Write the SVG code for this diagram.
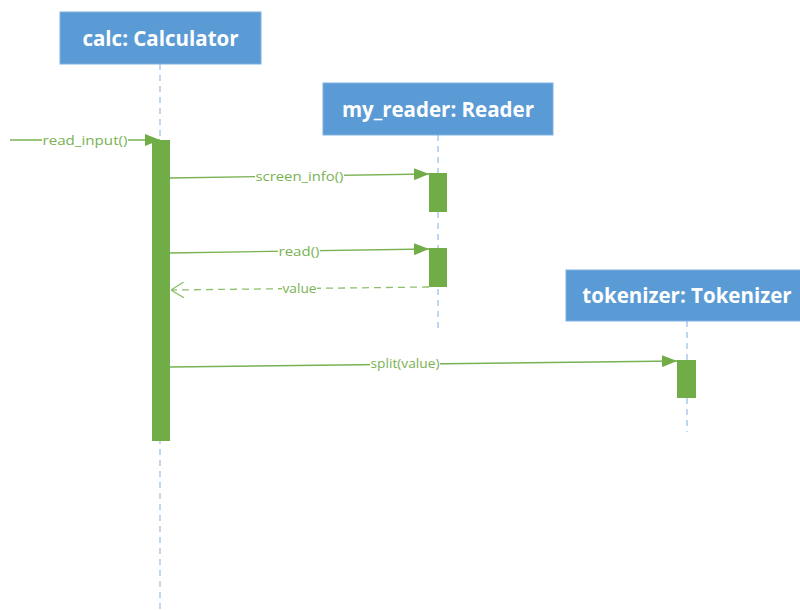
<svg xmlns="http://www.w3.org/2000/svg" width="800" height="610" viewBox="0 0 800 610">
<defs>
<style>
.box{fill:#5b9bd5;stroke:#7eb1e0;stroke-width:1}
.title{font-family:"Open Sans","Liberation Sans",sans-serif;font-weight:bold;font-size:20.5px;fill:#ffffff;text-anchor:middle}
.life{stroke:#9dc3e6;stroke-width:1.3;stroke-dasharray:6,5;fill:none}
.act{fill:#70ad47}
.msg{stroke:#78b252;stroke-width:1.3;fill:none}
.ret{stroke:#8cc06a;stroke-width:1.3;fill:none;stroke-dasharray:7,5}
.lbl{font-family:"Open Sans","Liberation Sans",sans-serif;font-size:13.5px;fill:#78b252;text-anchor:middle}
.bg{fill:#ffffff}
</style>
<marker id="tri" viewBox="0 0 15 12" refX="15" refY="6" markerWidth="15" markerHeight="12" markerUnits="userSpaceOnUse" orient="auto">
<path d="M0,0 L15,6 L0,12 Z" fill="#70ad47"/>
</marker>
<marker id="open" viewBox="0 0 13 16" refX="13" refY="8" markerWidth="13" markerHeight="16" markerUnits="userSpaceOnUse" orient="auto">
<path d="M0,0 L13,8 L0,16" fill="none" stroke="#8cc06a" stroke-width="1.3"/>
</marker>
</defs>
<g id="lifelines">
<line class="life" x1="160" y1="64" x2="160" y2="610"/>
<line class="life" x1="438" y1="135" x2="438" y2="330"/>
<line class="life" x1="687" y1="321" x2="687" y2="432"/>
</g>
<g id="calc">
<rect class="box" x="60" y="12" width="201" height="52"/>
<text class="title" x="160.5" y="45.5">calc: Calculator</text>
<rect class="act" x="152" y="140" width="18" height="301"/>
</g>
<g id="my_reader">
<rect class="box" x="323" y="83" width="230" height="52"/>
<text class="title" x="438" y="116.5">my_reader: Reader</text>
<rect class="act" x="429" y="173" width="18" height="39"/>
<rect class="act" x="429" y="248" width="18" height="39"/>
</g>
<g id="tokenizer">
<rect class="box" x="566" y="270" width="240" height="51"/>
<text class="title" x="687" y="303">tokenizer: Tokenizer</text>
<rect class="act" x="677" y="360" width="19" height="38"/>
</g>
<g id="connectors">
<line class="msg" x1="10" y1="140" x2="160" y2="140" marker-end="url(#tri)"/>
<rect class="bg" x="42" y="133" width="86" height="14"/>
<text class="lbl" x="85" y="144.5" textLength="85" lengthAdjust="spacingAndGlyphs">read_input()</text>
<line class="msg" x1="170" y1="178" x2="429" y2="174" marker-end="url(#tri)"/>
<rect class="bg" x="255" y="169" width="89" height="15"/>
<text class="lbl" x="299.5" y="181" textLength="88" lengthAdjust="spacingAndGlyphs">screen_info()</text>
<line class="msg" x1="170" y1="253" x2="429" y2="249" marker-end="url(#tri)"/>
<rect class="bg" x="278" y="244" width="42" height="15"/>
<text class="lbl" x="299" y="256" textLength="41" lengthAdjust="spacingAndGlyphs">read()</text>
<line class="ret" x1="429" y1="287" x2="171" y2="290" marker-end="url(#open)"/>
<rect class="bg" x="282" y="281" width="35" height="15"/>
<text class="lbl" x="299.5" y="293" textLength="34" lengthAdjust="spacingAndGlyphs">value</text>
<line class="msg" x1="170" y1="367" x2="677" y2="361" marker-end="url(#tri)"/>
<rect class="bg" x="370" y="356" width="70" height="15"/>
<text class="lbl" x="405" y="368" textLength="69" lengthAdjust="spacingAndGlyphs">split(value)</text>
</g>
</svg>
